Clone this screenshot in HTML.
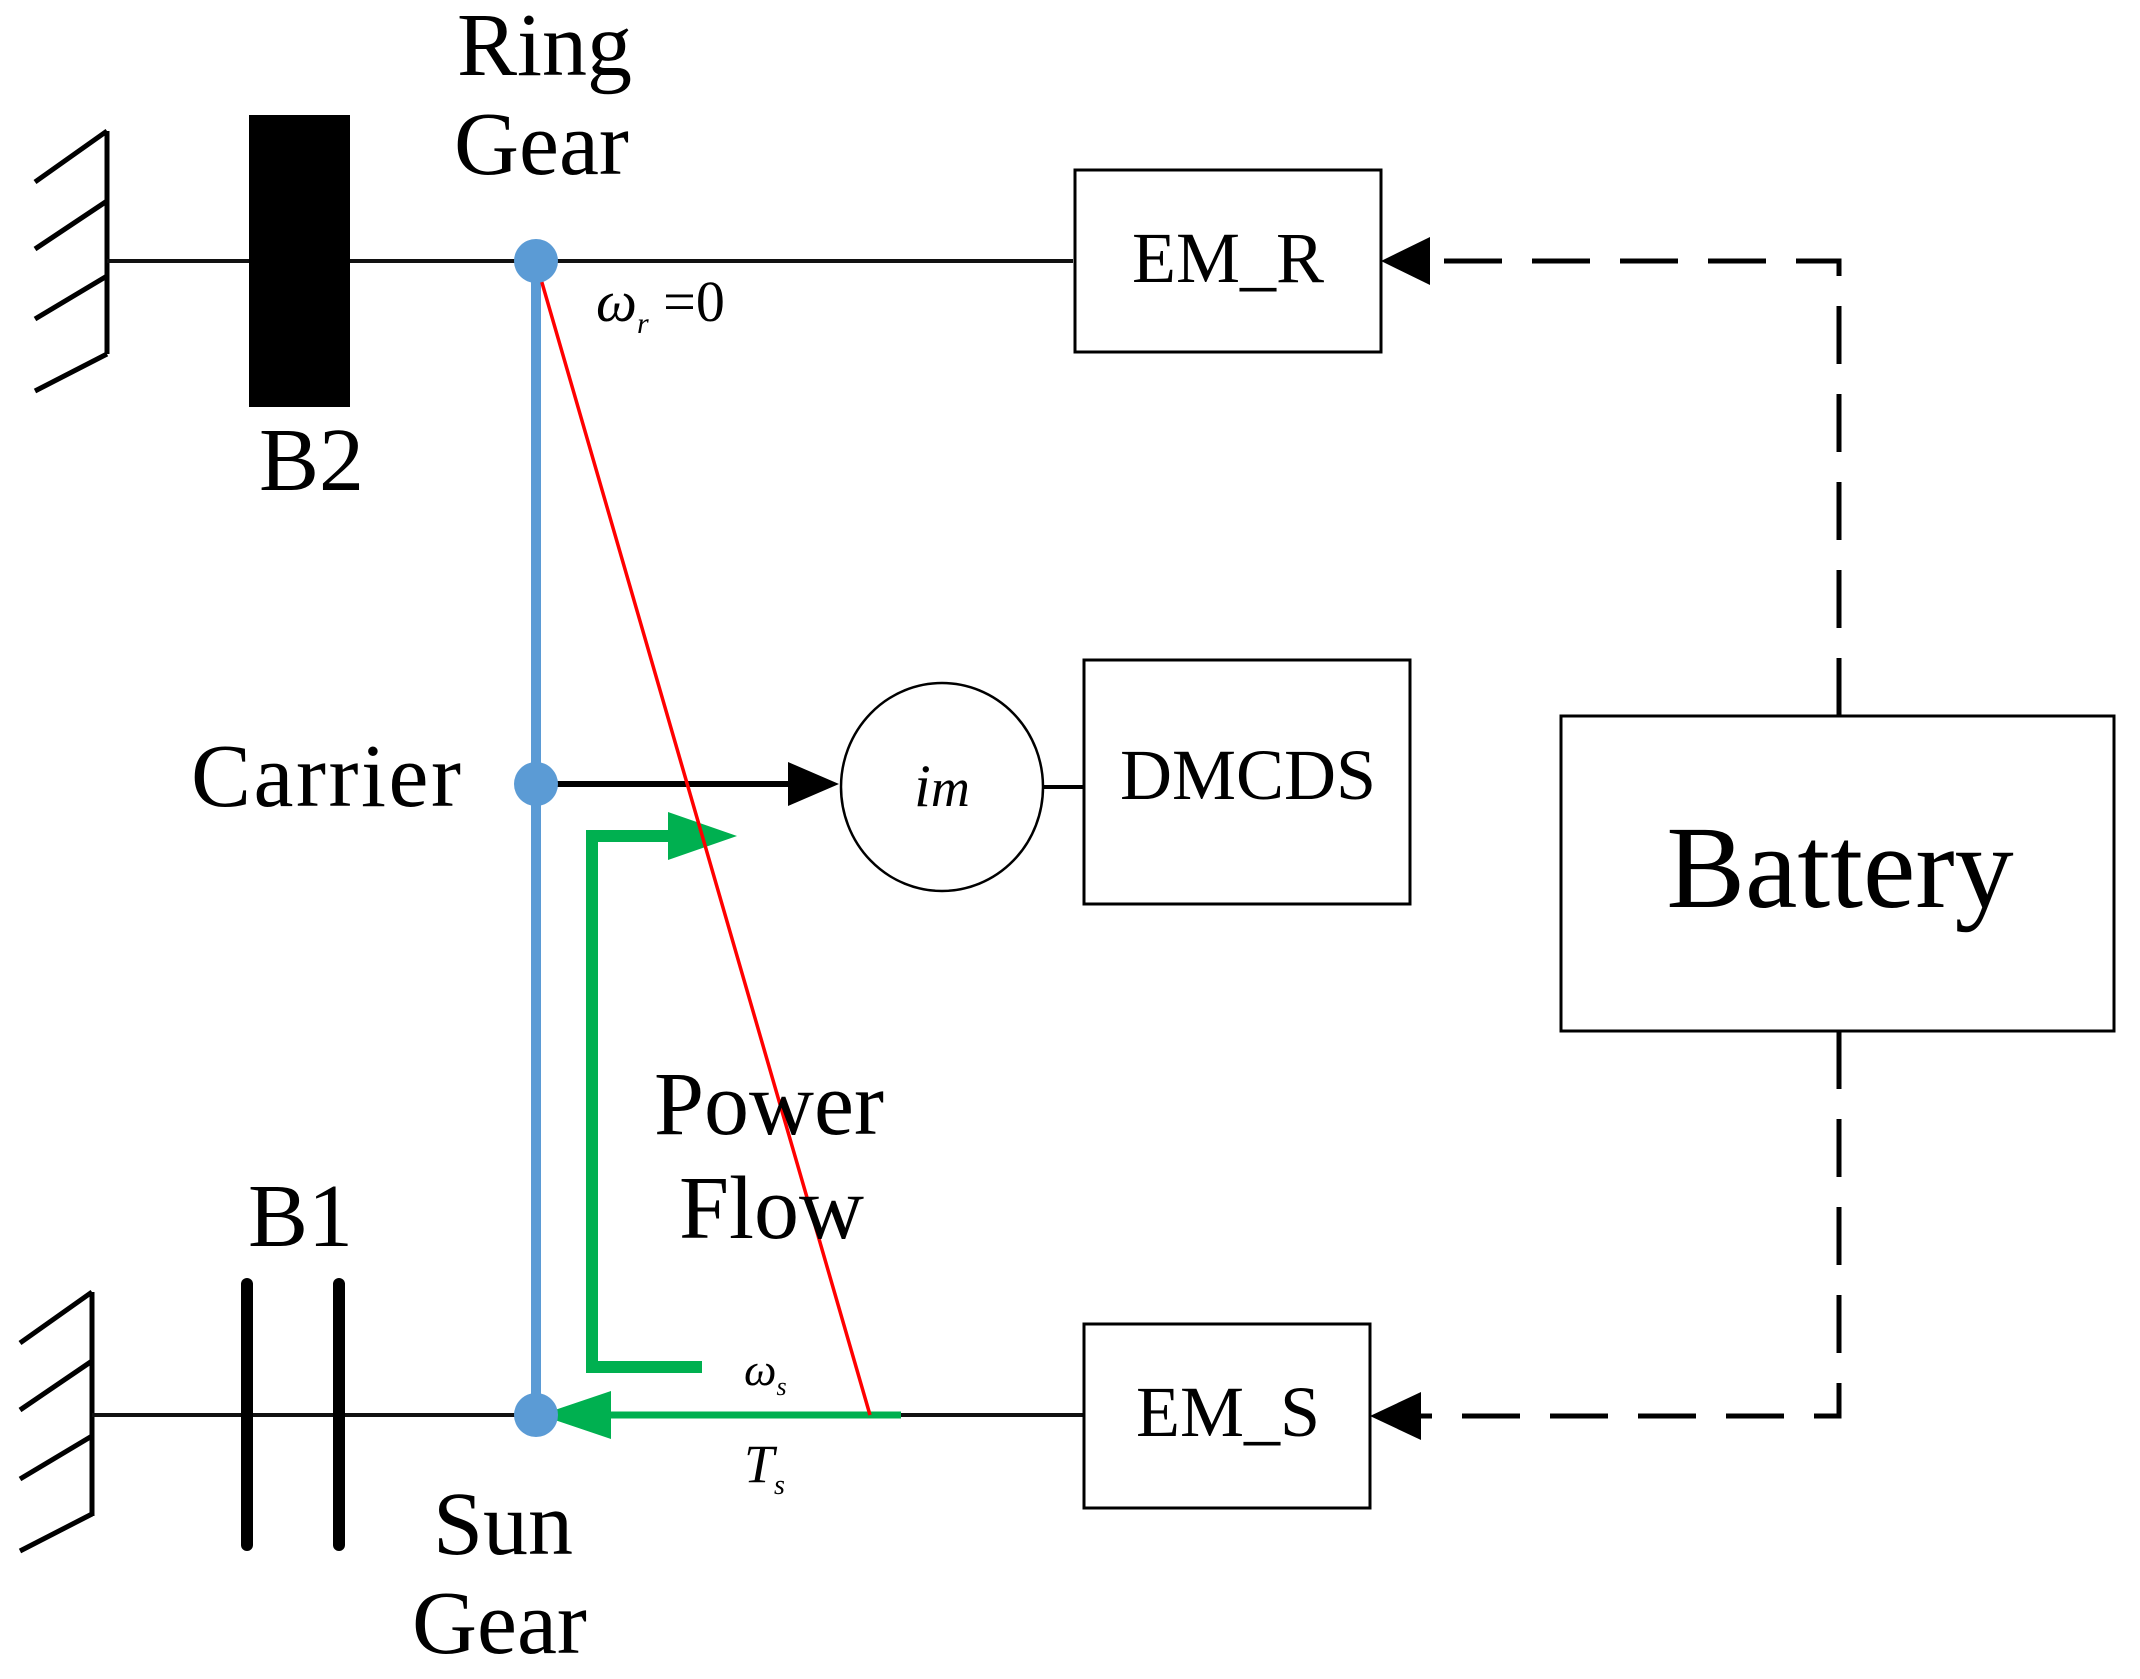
<!DOCTYPE html>
<html><head><meta charset="utf-8"><style>
html,body{margin:0;padding:0;background:#fff;}
svg{display:block;}
text{font-family:"Liberation Serif",serif;fill:#000;}
</style></head><body>
<svg width="2140" height="1679" viewBox="0 0 2140 1679" xmlns="http://www.w3.org/2000/svg">
<g stroke="#000" stroke-width="5" fill="none">
<line x1="107" y1="131" x2="107" y2="354"/>
<line x1="35" y1="182" x2="107" y2="131"/>
<line x1="35" y1="249" x2="107" y2="201"/>
<line x1="35" y1="319" x2="107" y2="276"/>
<line x1="35" y1="391" x2="107" y2="354"/>
<line x1="92" y1="1292" x2="92" y2="1516"/>
<line x1="20" y1="1343" x2="92" y2="1292"/>
<line x1="20" y1="1410" x2="92" y2="1361"/>
<line x1="20" y1="1479" x2="92" y2="1436"/>
<line x1="20" y1="1551" x2="92" y2="1514"/>
</g>
<line x1="107" y1="261" x2="1073" y2="261" stroke="#111" stroke-width="4"/>
<line x1="92" y1="1415" x2="1084" y2="1415" stroke="#111" stroke-width="4"/>
<rect x="249" y="115" width="101" height="292" fill="#000"/>
<line x1="247" y1="1284" x2="247" y2="1545" stroke="#000" stroke-width="12" stroke-linecap="round"/>
<line x1="339" y1="1284" x2="339" y2="1545" stroke="#000" stroke-width="12" stroke-linecap="round"/>
<line x1="536" y1="261" x2="536" y2="1415" stroke="#5b9bd5" stroke-width="10"/>
<polyline points="702,1367 592,1367 592,836 680,836" fill="none" stroke="#00b050" stroke-width="12"/>
<polygon points="668,812 737,836 668,860" fill="#00b050"/>
<line x1="600" y1="1415" x2="901" y2="1415" stroke="#00b050" stroke-width="7"/>
<polygon points="540,1415 611,1391 611,1439" fill="#00b050"/>
<line x1="536" y1="784" x2="800" y2="784" stroke="#000" stroke-width="6"/>
<polygon points="788,762 839,784 788,806" fill="#000"/>
<line x1="536" y1="262" x2="870" y2="1415" stroke="#f00" stroke-width="3.5"/>
<circle cx="536" cy="261" r="22" fill="#5b9bd5"/>
<circle cx="536" cy="784" r="22" fill="#5b9bd5"/>
<circle cx="536" cy="1415" r="22" fill="#5b9bd5"/>
<ellipse cx="942" cy="787" rx="101" ry="104" fill="#fff" stroke="#000" stroke-width="2.5"/>
<line x1="1043" y1="787" x2="1084" y2="787" stroke="#000" stroke-width="4"/>
<text x="942" y="806" font-size="60" font-style="italic" text-anchor="middle">i<tspan font-size="54">m</tspan></text>
<g fill="#fff" stroke="#000" stroke-width="3">
<rect x="1075" y="170" width="306" height="182"/>
<rect x="1084" y="660" width="326" height="244"/>
<rect x="1561" y="716" width="553" height="315"/>
<rect x="1084" y="1324" width="286" height="184"/>
</g>
<text x="1228" y="282" font-size="72" text-anchor="middle">EM_R</text>
<text x="1248" y="799" font-size="72" text-anchor="middle">DMCDS</text>
<text x="1840" y="907" font-size="118" text-anchor="middle">Battery</text>
<text x="1228" y="1436" font-size="72" text-anchor="middle">EM_S</text>
<g stroke="#000" stroke-width="5" fill="none" stroke-dasharray="58,30">
<polyline points="1839,716 1839,261 1430,261"/>
<polyline points="1839,1031 1839,1416 1421,1416"/>
</g>
<polygon points="1381,261 1430,237 1430,285" fill="#000"/>
<polygon points="1370,1416 1421,1392 1421,1440" fill="#000"/>
<text x="457" y="75" font-size="90">Ring</text>
<text x="454" y="174" font-size="90">Gear</text>
<text x="259" y="490" font-size="90">B2</text>
<text x="191" y="806" font-size="90" textLength="270">Carrier</text>
<text x="248" y="1246" font-size="90">B1</text>
<text x="654" y="1134" font-size="90">Power</text>
<text x="679" y="1238" font-size="90">Flow</text>
<text x="433" y="1554" font-size="90">Sun</text>
<text x="412" y="1653" font-size="90">Gear</text>
<text x="596" y="321" font-size="58" fill="#333"><tspan font-style="italic">ω</tspan><tspan font-size="30" font-style="italic" dy="12">r</tspan><tspan dy="-12"> =0</tspan></text>
<text x="744" y="1385" font-size="46" font-style="italic" fill="#333">ω<tspan font-size="26" dy="10">s</tspan></text>
<text x="744" y="1482" font-size="54" font-style="italic" fill="#333">T<tspan font-size="28" dy="12">s</tspan></text>
</svg>
</body></html>
